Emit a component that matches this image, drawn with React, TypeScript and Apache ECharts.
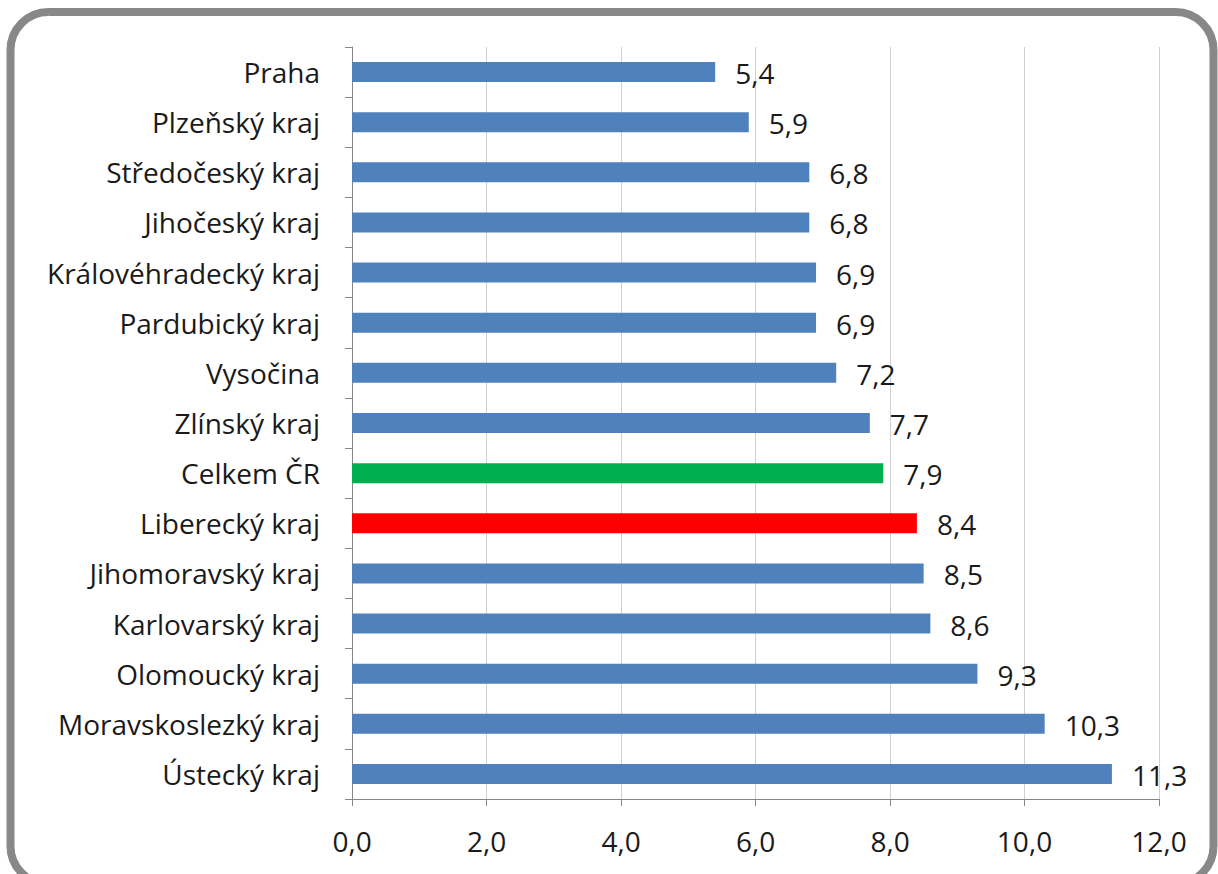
import React, { useEffect, useRef } from "react";
import * as echarts from "echarts";

const categories = [
  "Praha",
  "Plzeňský kraj",
  "Středočeský kraj",
  "Jihočeský kraj",
  "Královéhradecký kraj",
  "Pardubický kraj",
  "Vysočina",
  "Zlínský kraj",
  "Celkem ČR",
  "Liberecký kraj",
  "Jihomoravský kraj",
  "Karlovarský kraj",
  "Olomoucký kraj",
  "Moravskoslezký kraj",
  "Ústecký kraj",
];
const values = [5.4, 5.9, 6.8, 6.8, 6.9, 6.9, 7.2, 7.7, 7.9, 8.4, 8.5, 8.6, 9.3, 10.3, 11.3];
const highlight: Record<string, string> = {
  "Celkem ČR": "#00B050",
  "Liberecký kraj": "#FF0000",
};
const baseColor = "#4F81BD";

const fmt = (v: number) => v.toFixed(1).replace(".", ",");
const FONT = "'Open Sans', sans-serif";
const FS = 28;

export default function App() {
  const ref = useRef<HTMLDivElement>(null);
  useEffect(() => {
    if (!ref.current) return;
    const chart = echarts.init(ref.current, undefined, { renderer: "svg" });
    chart.setOption({
      animation: false,
      backgroundColor: "#ffffff",
      grid: { left: 352, right: 59, top: 47, bottom: 75, containLabel: false },
      xAxis: {
        type: "value",
        min: 0,
        max: 12,
        interval: 2,
        axisLine: { show: true, lineStyle: { color: "#868686", width: 1 } },
        axisTick: { show: true, length: 7, lineStyle: { color: "#868686" } },
        axisLabel: {
          formatter: (v: number) => fmt(v),
          color: "#1a1a1a",
          fontSize: FS,
          fontFamily: FONT,
          margin: 28,
        },
        splitLine: { show: true, lineStyle: { color: "#d0d0d0", width: 1 } },
      },
      yAxis: {
        type: "category",
        inverse: true,
        data: categories,
        axisLine: { show: true, lineStyle: { color: "#868686", width: 1 } },
        axisTick: { show: true, length: 7, lineStyle: { color: "#868686" } },
        axisLabel: {
          color: "#1a1a1a",
          fontSize: FS,
          fontFamily: FONT,
          margin: 32,
        },
        splitLine: { show: false },
      },
      series: [
        {
          type: "bar",
          barWidth: 20,
          data: values.map((v, i) => ({
            value: v,
            itemStyle: { color: highlight[categories[i]] || baseColor },
          })),
          label: {
            show: true,
            position: "right",
            distance: 20,
            offset: [0, 1],
            formatter: (p: any) => fmt(p.value),
            color: "#1a1a1a",
            fontSize: FS,
            fontFamily: FONT,
          },
        },
      ],
      graphic: [
        {
          type: "rect",
          shape: { x: 10.5, y: 12, width: 1203, height: 872, r: 38 },
          style: { fill: "none", stroke: "#888888", lineWidth: 8 },
          silent: true,
          z: 100,
        },
      ],
    });
    return () => chart.dispose();
  }, []);
  return (
    <div
      ref={ref}
      style={{ position: "fixed", left: 0, top: 0, width: 1218, height: 874 }}
    />
  );
}
